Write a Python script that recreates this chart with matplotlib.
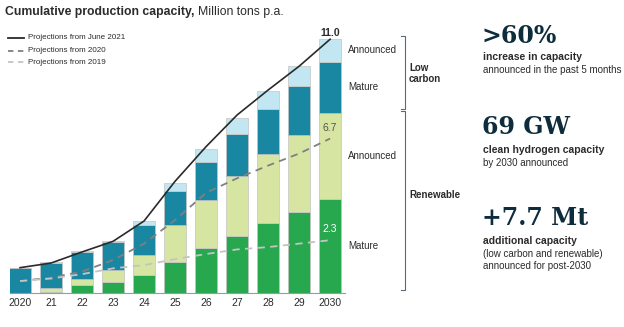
import numpy as np
import matplotlib as mpl
import matplotlib.pyplot as plt
from matplotlib.lines import Line2D

plt.rcParams['font.family'] = ['Liberation Sans', 'DejaVu Sans']

# data, Million tons p.a.
years = ['2020', '21', '22', '23', '24', '25', '26', '27', '28', '29', '2030']
renew_mature = [0.0, 0.07, 0.35, 0.50, 0.79, 1.37, 1.95, 2.48, 3.06, 3.50, 4.10]
renew_announced = [0.0, 0.14, 0.27, 0.50, 0.87, 1.59, 2.09, 2.60, 2.97, 3.36, 3.70]
lowc_mature = [1.11, 1.12, 1.18, 1.21, 1.31, 1.47, 1.63, 1.80, 1.93, 2.11, 2.20]
lowc_announced = [0.0, 0.02, 0.02, 0.07, 0.14, 0.33, 0.58, 0.69, 0.79, 0.88, 1.00]

proj_june2021 = [1.11, 1.31, 1.79, 2.25, 3.13, 4.85, 6.35, 7.72, 8.80, 9.83, 11.0]
proj_2020 = [0.53, 0.68, 0.94, 1.44, 2.15, 3.17, 4.35, 4.98, 5.53, 6.05, 6.7]
proj_2019 = [0.53, 0.64, 0.83, 1.08, 1.22, 1.48, 1.70, 1.90, 2.00, 2.15, 2.3]

c_rm = '#27a84e'
c_ra = '#d6e5a2'
c_lm = '#1a87a2'
c_la = '#c2e7f3'
txt = '#2b2b2b'
navy = '#0d2c3c'

W, H = 624, 327
fig = plt.figure(figsize=(W / 100, H / 100), dpi=100)


def fx(px):
    return px / W


def fy(py):
    return 1 - py / H


ax = fig.add_axes([fx(10), fy(293.3), (345 - 10) / W, (293.3 - 30) / H])
x = np.arange(len(years))
stacks = [(renew_mature, c_rm), (renew_announced, c_ra), (lowc_mature, c_lm), (lowc_announced, c_la)]
bottom = np.zeros(len(years))
for vals, col in stacks:
    ax.bar(x, vals, width=0.7, bottom=bottom, color=col, edgecolor='#c4c4c4', linewidth=0.5, zorder=2)
    bottom += np.array(vals)

ax.plot(x, proj_june2021, color='#2a2a2a', lw=1.2, zorder=4)
ax.plot(x, proj_2020, color='#808080', lw=1.3, dashes=(4, 3), zorder=4)
ax.plot(x, proj_2019, color='#c4c4c4', lw=1.3, dashes=(4, 3), zorder=4)

ax.text(10, bottom[-1] + 0.05, '11.0', ha='center', va='bottom', fontsize=7.5, fontweight='bold', color=txt)
ax.text(10, proj_2020[-1] + 0.25, '6.7', ha='center', va='bottom', fontsize=7.5, color='#555555', zorder=5)
ax.text(10, proj_2019[-1] + 0.25, '2.3', ha='center', va='bottom', fontsize=7.5, color='white', zorder=5)

ax.set_xlim(-0.323, 10.48)
ax.set_ylim(0, 11.4)
ax.set_xticks(x, years)
ax.tick_params(axis='x', length=0, pad=3.5, labelsize=7.5, labelcolor=txt)
ax.set_yticks([])
for s in ['left', 'right', 'top']:
    ax.spines[s].set_visible(False)
ax.spines['bottom'].set_color('#9a9a9a')
ax.spines['bottom'].set_linewidth(0.8)

# title
t = fig.text(fx(5), fy(12), 'Cumulative production capacity,', fontsize=8.8, fontweight='bold',
             color=txt, va='center')
fig.canvas.draw()
bb = t.get_window_extent()
fig.text(bb.x1 / W + fx(3), fy(12), 'Million tons p.a.', fontsize=8.8, color=txt, va='center')

# legend
leg = [('Projections from June 2021', '#2a2a2a', None, 37.7),
       ('Projections from 2020', '#808080', (3, 2.5), 51),
       ('Projections from 2019', '#c4c4c4', (3, 2.5), 62.3)]
for label, col, dash, py in leg:
    ln = Line2D([fx(8), fx(24)], [fy(py), fy(py)], color=col, lw=1.3, transform=fig.transFigure)
    if dash:
        ln.set_dashes(dash)
    fig.add_artist(ln)
    fig.text(fx(28), fy(py), label, fontsize=5.8, color=txt, va='center')

# segment labels on the right
for label, py in [('Announced', 50), ('Mature', 86.7), ('Announced', 156), ('Mature', 246)]:
    fig.text(fx(348), fy(py), label, fontsize=7, color=txt, va='center')

# brackets
bc = '#5b6b78'
bx = 405
for y0, y1 in [(36, 109), (111, 290)]:
    fig.add_artist(Line2D([fx(bx - 4), fx(bx), fx(bx), fx(bx - 4)], [fy(y0), fy(y0), fy(y1), fy(y1)],
                          color=bc, lw=0.8, transform=fig.transFigure))
fig.text(fx(409), fy(68), 'Low', fontsize=7, fontweight='bold', color=txt, va='center')
fig.text(fx(409), fy(79.5), 'carbon', fontsize=7, fontweight='bold', color=txt, va='center')
fig.text(fx(409), fy(195.5), 'Renewable', fontsize=7, fontweight='bold', color=txt, va='center')

# callouts
callouts = [('>60%', 36, ['increase in capacity'], ['announced in the past 5 months'], 57),
            ('69 GW', 127, ['clean hydrogen capacity'], ['by 2030 announced'], 150),
            ('+7.7 Mt', 218, ['additional capacity'], ['(low carbon and renewable)', 'announced for post-2030'], 241)]
for big, by, bold_lines, plain_lines, ty in callouts:
    fig.text(fx(482), fy(by), big, fontsize=17, fontweight='bold', family='DejaVu Serif',
             color=navy, va='center')
    yy = ty
    for s in bold_lines:
        fig.text(fx(483), fy(yy), s, fontsize=7.5, fontweight='bold', color=txt, va='center')
        yy += 12.8
    for s in plain_lines:
        fig.text(fx(483), fy(yy), s, fontsize=7, color=txt, va='center')
        yy += 12.6

fig.savefig('out.png', dpi=100)
